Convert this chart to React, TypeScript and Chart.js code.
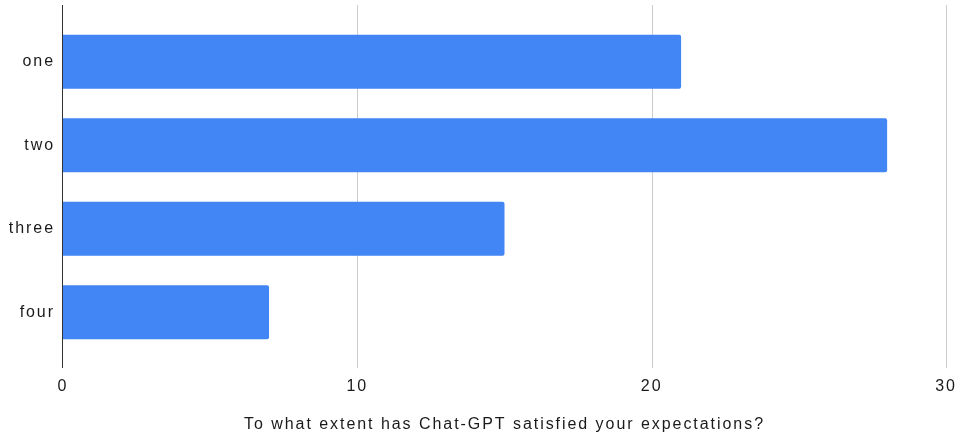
import React, { useEffect, useRef } from "react";
import { Chart, registerables } from "chart.js";

Chart.register(...registerables);

const categories = ["one", "two", "three", "four"];
const values = [21, 28, 15, 7];
const xTicks = [0, 10, 20, 30];
const axisTitle = "To what extent has Chat-GPT satisfied your expectations?";

const FONT = "'Liberation Sans', Arial, sans-serif";
const LS = "1.95px";

const spacingPlugin = {
  id: "spacing",
  beforeUpdate(chart: any) {
    chart.ctx.letterSpacing = LS;
  },
  beforeLayout(chart: any) {
    chart.ctx.letterSpacing = LS;
  },
  beforeDraw(chart: any) {
    chart.ctx.letterSpacing = LS;
  },
};

const gridPlugin = {
  id: "customGrid",
  beforeDatasetsDraw(chart: any) {
    const { ctx, chartArea, scales } = chart;
    const x = scales.x;
    const top = chartArea.top - 15;
    const bottom = chartArea.bottom + 14;
    ctx.save();
    ctx.lineWidth = 1;
    xTicks.forEach((v) => {
      if (v === 0) return;
      const px = Math.round(x.getPixelForValue(v)) + 0.5;
      ctx.strokeStyle = "#cccccc";
      ctx.beginPath();
      ctx.moveTo(px, top);
      ctx.lineTo(px, bottom);
      ctx.stroke();
    });
    ctx.restore();
  },
  afterDatasetsDraw(chart: any) {
    const { ctx, chartArea, scales } = chart;
    const x = scales.x;
    const top = chartArea.top - 15;
    const bottom = chartArea.bottom + 14;
    const px = Math.round(x.getPixelForValue(0)) - 0.5;
    ctx.save();
    ctx.strokeStyle = "#333333";
    ctx.lineWidth = 1;
    ctx.beginPath();
    ctx.moveTo(px, top);
    ctx.lineTo(px, bottom);
    ctx.stroke();
    ctx.restore();
  },
};

export default function App() {
  const ref = useRef<HTMLCanvasElement>(null);
  useEffect(() => {
    document.body.style.margin = "0";
    const chart = new Chart(ref.current!, {
      type: "bar",
      data: {
        labels: categories,
        datasets: [
          {
            data: values,
            backgroundColor: "#4285f4",
            borderRadius: 2,
            barPercentage: 0.647,
            categoryPercentage: 1,
          },
        ],
      },
      options: {
        indexAxis: "y",
        animation: false,
        responsive: true,
        maintainAspectRatio: false,
        layout: { padding: { top: 20, right: 17, left: 0, bottom: 0 } },
        plugins: {
          legend: { display: false },
          tooltip: { enabled: false },
        },
        scales: {
          x: {
            min: 0,
            max: 30,
            afterBuildTicks(scale: any) {
              scale.ticks = xTicks.map((v) => ({ value: v }));
            },
            afterFit(scale: any) {
              scale.height = 84;
              scale.paddingLeft = 0;
              scale.paddingRight = 0;
            },
            grid: { display: false, drawTicks: false },
            border: { display: false },
            ticks: {
              padding: 23,
              color: "#1a1a1a",
              font: { family: FONT, size: 16 },
              maxRotation: 0,
            },
            title: {
              display: true,
              text: axisTitle,
              color: "#1a1a1a",
              font: { family: FONT, size: 16 },
              padding: { top: 0, bottom: 4 },
            },
          },
          y: {
            afterFit(scale: any) {
              scale.width = 63;
              scale.paddingTop = 0;
              scale.paddingBottom = 0;
            },
            grid: { display: false, drawTicks: false },
            border: { display: false },
            ticks: {
              padding: 8,
              color: "#1a1a1a",
              font: { family: FONT, size: 16 },
            },
          },
        },
      },
      plugins: [spacingPlugin, gridPlugin],
    });
    return () => chart.destroy();
  }, []);
  return (
    <div style={{ width: 963, height: 438, position: "relative" }}>
      <canvas ref={ref} />
    </div>
  );
}
